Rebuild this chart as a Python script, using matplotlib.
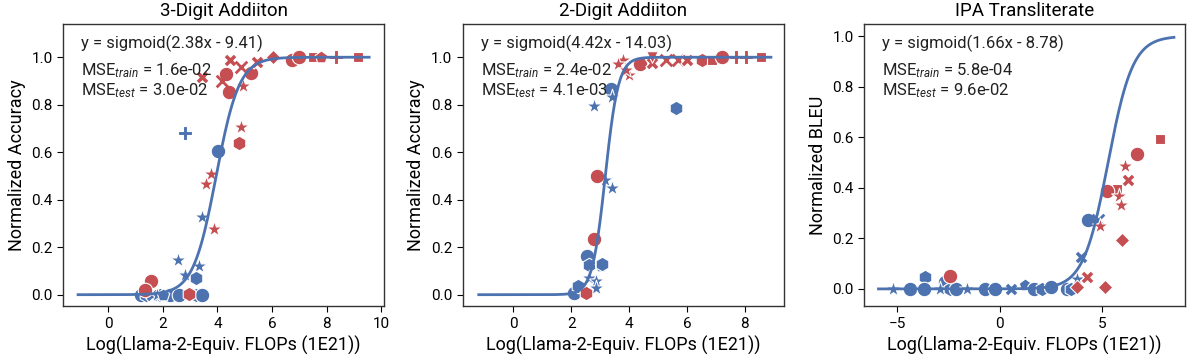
import numpy as np
import matplotlib
matplotlib.use("Agg")
import matplotlib.pyplot as plt

plt.rcParams['font.family'] = ['Roboto', 'DejaVu Sans']
plt.rcParams['mathtext.fontset'] = 'custom'
plt.rcParams['mathtext.rm'] = 'Roboto'
plt.rcParams['mathtext.it'] = 'Roboto:italic'

BLUE = "#4C72B0"
RED = "#C44E52"

titles = ["3-Digit Addiiton", "2-Digit Addiiton", "IPA Transliterate"]
ylabels = ["Normalized Accuracy", "Normalized Accuracy", "Normalized BLEU"]
xlabel = "Log(Llama-2-Equiv. FLOPs (1E21))"
slopes = [2.38, 4.42, 1.66]
intercepts = [-9.41, -14.03, -8.78]
mse_train = ["1.6e-02", "2.4e-02", "5.8e-04"]
mse_test = ["3.0e-02", "4.1e-03", "9.6e-02"]
curve_ranges = [(-1.1, 9.55), (-1.2, 8.9), (-5.9, 8.5)]
xticks = [[0, 2, 4, 6, 8, 10], [0, 2, 4, 6, 8], [-5, 0, 5]]
xlims = [(-1.65, 10.1), (-1.75, 9.35), (-6.6, 9.05)]
ylims = [(-0.048, 1.14), (-0.048, 1.14), (-0.068, 1.048)]

# 3-digit addition
x3_train = [2.81, 4.03, 3.42, 2.57, 3.33, 2.81, 3.21, 2.26, 2.6, 3.36, 3.2, 1.9, 1.2, 1.4, 1.6, 1.8, 2.0, 3.45]
y3_train = [0.68, 0.605, 0.326, 0.144, 0.122, 0.084, 0.069, 0.0, 0.0, 0.0, 0.0, 0.0, 0.0, 0.0, 0.0, 0.0, 0.0, 0.0]
m3_train = ["P", "o", "*", "*", "*", "*", "h", "o", "o", "o", "h", "h", "o", "h", "X", "*", "p", "o"]
x3_test = [3.42, 4.33, 4.42, 4.45, 4.15, 4.94, 5.24, 5.43, 4.88, 6.73, 6.03, 7.0, 7.5, 7.8, 8.35, 9.14,
           4.88, 4.78, 3.75, 3.58, 3.89, 1.57, 1.35, 2.97]
y3_test = [0.915, 0.93, 0.854, 0.99, 0.90, 0.88, 0.934, 0.98, 0.96, 0.99, 1.0, 1.0, 1.0, 1.0, 1.0, 1.0,
           0.707, 0.637, 0.507, 0.465, 0.276, 0.056, 0.018, 0.003]
m3_test = ["X", "o", "o", "X", "x", "*", "o", "X", "x", "o", "D", "o", "s", "p", "P", "s",
           "*", "h", "*", "*", "*", "o", "o", "h"]

# 2-digit addition
x2_train = [3.37, 2.79, 3.42, 5.63, 3.17, 3.39, 2.54, 2.6, 3.02, 3.05, 2.62, 2.85, 2.85, 2.1, 2.22]
y2_train = [0.866, 0.795, 0.833, 0.787, 0.483, 0.448, 0.161, 0.126, 0.122, 0.13, 0.07, 0.056, 0.028, 0.007, 0.035]
m2_train = ["o", "*", "*", "h", "*", "*", "o", "h", "p", "h", "*", "*", "*", "o", "h"]
x2_test = [2.87, 2.77, 2.51, 3.77, 3.6, 4.0, 3.89, 4.38, 4.8, 4.8, 5.27, 5.67, 6.01, 6.53, 6.87, 7.22, 7.68, 8.02, 8.54]
y2_test = [0.50, 0.235, 0.007, 0.987, 0.97, 0.924, 0.945, 0.97, 0.976, 1.0, 0.99, 0.99, 0.99, 0.99, 0.99, 1.0, 1.0, 1.0, 1.0]
m2_test = ["o", "o", "h", "*", "*", "*", "*", "o", "X", "v", "x", "x", "X", "h", "s", "o", "P", "P", "s"]

# IPA transliterate
xi_train = [4.32, 4.8, 3.95, 3.79, -2.68, -3.61, -5.19, -4.37, -3.69, -2.88, -2.39, -2.1, -1.61,
            -0.73, -0.2, 0.54, 1.22, 1.67, 2.08, 2.52, 3.3, 3.47]
yi_train = [0.271, 0.274, 0.128, 0.038, 0.029, 0.046, 0.0, 0.0, 0.0, 0.0, 0.0, 0.0, 0.0,
            0.0, 0.0, 0.0, 0.016, 0.0, 0.0, 0.009, 0.0, 0.0]
mi_train = ["o", "x", "X", "*", "o", "h", "*", "o", "o", "*", "h", "o", "*",
            "o", "o", "X", "p", "o", "h", "o", "o", "h"]
xi_test = [7.82, 6.68, 6.12, 6.28, 5.71, 5.25, 5.82, 5.9, 4.89, 5.95, 4.28, 3.79, 5.14, -2.42]
yi_test = [0.594, 0.532, 0.488, 0.429, 0.397, 0.386, 0.366, 0.33, 0.247, 0.194, 0.049, 0.007, 0.007, 0.052]
mi_test = ["s", "o", "*", "X", "s", "o", "*", "*", "*", "D", "X", "D", "D", "o"]

panels = [
    (x3_train, y3_train, m3_train, x3_test, y3_test, m3_test),
    (x2_train, y2_train, m2_train, x2_test, y2_test, m2_test),
    (xi_train, yi_train, mi_train, xi_test, yi_test, mi_test),
]

sizes = {"o": 110, "h": 110, "p": 90, "*": 140, "X": 90, "x": 70, "P": 90, "s": 60, "D": 55, "v": 70}

fig = plt.figure(figsize=(11.96, 3.58), dpi=100)
lefts = [0.0527, 0.387, 0.7225]
for i in range(3):
    ax = fig.add_axes([lefts[i], 0.145, 0.2685, 0.788])
    xtr, ytr, mtr, xte, yte, mte = panels[i]
    for xs, ys, ms, col in [(xtr, ytr, mtr, BLUE), (xte, yte, mte, RED)]:
        for x, y, m in zip(xs, ys, ms):
            if m == "x":
                ax.scatter(x, y, s=sizes[m], marker=m, color=col, linewidths=2, zorder=2)
            else:
                ax.scatter(x, y, s=sizes[m], marker=m, color=col, edgecolors="white", linewidths=0.8, zorder=2)
    xc = np.linspace(curve_ranges[i][0], curve_ranges[i][1], 300)
    yc = 1 / (1 + np.exp(-(slopes[i] * xc + intercepts[i])))
    ax.plot(xc, yc, color=BLUE, lw=2, zorder=3)

    ax.text(0.055, 0.962, "y = sigmoid(%.2fx - %.2f)" % (slopes[i], -intercepts[i]),
            transform=ax.transAxes, fontsize=12, va="top", color="#222222")
    ax.text(0.055, 0.868, "MSE$_{train}$ = %s\nMSE$_{test}$ = %s" % (mse_train[i], mse_test[i]),
            transform=ax.transAxes, fontsize=12, va="top", color="#222222", linespacing=1.1)

    ax.set_xlim(xlims[i])
    ax.set_ylim(ylims[i])
    ax.set_xticks(xticks[i])
    ax.set_yticks([0, 0.2, 0.4, 0.6, 0.8, 1.0])
    ax.set_yticklabels(["0.0", "0.2", "0.4", "0.6", "0.8", "1.0"])
    ax.tick_params(labelsize=11, direction="out", length=4)
    ax.set_title(titles[i], fontsize=13.5)
    ax.set_xlabel(xlabel, fontsize=13)
    ax.set_ylabel(ylabels[i], fontsize=13)
    for sp in ax.spines.values():
        sp.set_color("#333333")
        sp.set_linewidth(1.0)

fig.savefig("out.png", dpi=100)
